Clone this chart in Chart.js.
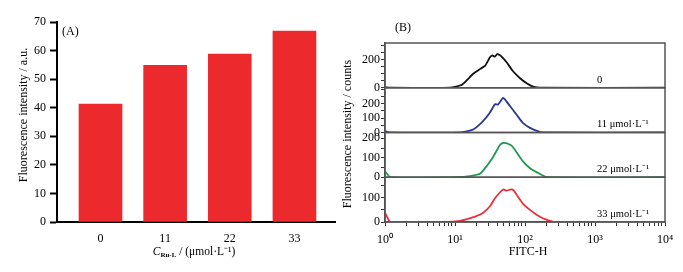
<!DOCTYPE html>
<html>
<head>
<meta charset="utf-8">
<script src="https://cdn.jsdelivr.net/npm/chart.js@4.4.0/dist/chart.umd.min.js"></script>
<style>
  body { margin: 0; background: #fff; }
  #wrap { position: relative; width: 683px; height: 272px; }
  #barChart { position: absolute; left: 0; top: 0; }
  #histChart { position: absolute; left: 340px; top: 0; }
</style>
</head>
<body>
<div id="wrap">
  <canvas id="barChart" width="340" height="272"></canvas>
  <canvas id="histChart" width="343" height="272"></canvas>
</div>
<script>
// (A) mean fluorescence vs Ru-L concentration
const concLabels = ['0', '11', '22', '33'];
const concValues = [0, 11, 22, 33];
const meanIntensity = [41.3, 54.8, 58.8, 66.8];

// (B) flow cytometry histograms (FITC-H vs counts)
const fitc0 = [1, 1.2, 8.5, 12.6, 18, 23, 27, 31.6, 34, 37, 40, 44, 49, 55, 67, 85, 107, 130, 163, 10000];
const counts0 = [4, 0, 0, 22, 98, 135, 158, 218, 232, 222, 240, 232, 210, 180, 120, 68, 30, 8, 0, 0];

const fitc11 = [1, 1.15, 11.8, 18, 23, 28, 31.6, 37.3, 41, 44.5, 48.5, 52, 57, 64, 72, 80, 93, 118, 148, 181, 10000];
const counts11 = [10, 0, 0, 20, 60, 105, 138, 197, 193, 215, 240, 228, 202, 170, 138, 108, 67, 32, 11, 0, 0];

const fitc22 = [1, 1.2, 10.7, 16.4, 23, 29, 35, 40, 44, 49, 53, 57, 65, 77, 93, 118, 148, 206, 10000];
const counts22 = [30, 0, 0, 6, 19, 62, 104, 141, 167, 177, 175, 172, 161, 125, 83, 46, 25, 0, 0];

const fitc33 = [1, 1.1, 1.18, 7.7, 11.8, 14.9, 19.3, 25, 32, 37, 44, 49, 55, 63, 69, 79, 93, 118, 148, 193, 270, 10000];
const counts33 = [38, 15, 0, 0, 5, 12, 22, 37, 67, 97, 123, 135, 129, 135, 131, 105, 76, 50, 29, 12, 0, 0];

const histNames = ['0', '11 \u03bcmol\u00b7L\u207b\u00b9', '22 \u03bcmol\u00b7L\u207b\u00b9', '33 \u03bcmol\u00b7L\u207b\u00b9'];
const histColors = ['#111111', '#2b3990', '#1e9a4c', '#e8313c'];
const histMax = [320, 310, 230, 185];
const histTicks = [
    [0, 50, 100, 150, 200, 250, 300],
    [0, 50, 100, 150, 200, 250, 300],
    [0, 50, 100, 150, 200],
    [0, 50, 100, 150]
];
const histTickLabels = [[0, 200], [0, 100, 200], [0, 100, 200], [0, 100]];

const xMajorTicks = [1, 10, 100, 1000, 10000];
const xMajorLabels = ['10\u2070', '10\u00b9', '10\u00b2', '10\u00b3', '10\u2074'];

const SERIF = '"Liberation Serif", "Times New Roman", serif';
Chart.defaults.font.family = SERIF;
Chart.defaults.font.size = 12;
Chart.defaults.color = '#000';

// ---------- (A) ----------
const barTextPlugin = {
    id: 'barText',
    afterDraw(chart) {
        const ctx = chart.ctx;
        ctx.save();
        ctx.fillStyle = '#000';
        ctx.textBaseline = 'middle';
        ctx.font = '12px ' + SERIF;
        ctx.textAlign = 'left';
        ctx.fillText('(A)', 62, 32);

        // y title
        ctx.save();
        ctx.translate(24, 115);
        ctx.rotate(-Math.PI / 2);
        ctx.textAlign = 'center';
        ctx.fillText('Fluorescence intensity / a.u.', 0, 0);
        ctx.restore();

        // x title: C(Ru-L) / (umol·L-1)
        const parts = [
            { text: 'C', font: 'italic 11.5px ' + SERIF, dy: 0 },
            { text: 'Ru-L', font: 'bold 7px ' + SERIF, dy: 3 },
            { text: ' / (\u03bcmol\u00b7L\u207b\u00b9)', font: '11.5px ' + SERIF, dy: 0 }
        ];
        let total = 0;
        parts.forEach(p => { ctx.font = p.font; p.w = ctx.measureText(p.text).width; total += p.w; });
        let x = 194 - total / 2;
        ctx.textAlign = 'left';
        parts.forEach(p => {
            ctx.font = p.font;
            ctx.fillText(p.text, x, 252 + p.dy);
            x += p.w;
        });
        ctx.restore();
    }
};

new Chart(document.getElementById('barChart').getContext('2d'), {
    type: 'bar',
    data: {
        datasets: [{
            data: concValues.map((c, i) => ({ x: c, y: meanIntensity[i] })),
            backgroundColor: '#ec2a2d',
            barThickness: 43
        }]
    },
    options: {
        responsive: false,
        animation: false,
        layout: { padding: { top: 22, right: 5, left: 0, bottom: 0 } },
        plugins: { legend: { display: false }, tooltip: { enabled: false } },
        scales: {
            x: {
                type: 'linear',
                offset: false,
                min: -7.4,
                max: 39.9,
                afterBuildTicks: s => { s.ticks = concValues.map(v => ({ value: v })); },
                afterFit: s => { s.height = 50; },
                ticks: {
                    autoSkip: false,
                    maxRotation: 0,
                    padding: 2,
                    callback: v => concLabels[concValues.indexOf(v)]
                },
                grid: { display: false },
                border: { color: '#000', width: 2 }
            },
            y: {
                min: 0,
                max: 70,
                afterFit: s => { s.width = 57; },
                ticks: { stepSize: 10, padding: 4 },
                grid: { drawOnChartArea: false, tickLength: 7, tickColor: '#000', tickWidth: 2 },
                border: { color: '#000', width: 2 }
            }
        }
    },
    plugins: [barTextPlugin]
});

// ---------- (B) ----------
const histSeries = [[fitc0, counts0], [fitc11, counts11], [fitc22, counts22], [fitc33, counts33]];

const histScales = {
    x: {
        type: 'logarithmic',
        min: 1,
        max: 10000,
        afterBuildTicks: s => {
            const ticks = [];
            xMajorTicks.forEach((m, i) => {
                ticks.push({ value: m });
                if (i < xMajorTicks.length - 1) {
                    for (let k = 2; k <= 9; k++) ticks.push({ value: m * k });
                }
            });
            s.ticks = ticks;
        },
        afterFit: s => { s.height = 50; },
        ticks: {
            autoSkip: false,
            maxRotation: 0,
            padding: 7,
            callback: v => {
                const i = xMajorTicks.indexOf(v);
                return i >= 0 ? xMajorLabels[i] : '';
            }
        },
        grid: { drawOnChartArea: false, tickLength: 4, tickColor: '#333' },
        border: { color: '#444', width: 1.5 }
    }
};
// stacked axes are laid out bottom-up, so add the lowest panel first
for (let i = histSeries.length - 1; i >= 0; i--) {
    histScales['h' + i] = {
        type: 'linear',
        position: 'left',
        stack: 'counts',
        stackWeight: 1,
        min: 0,
        max: histMax[i],
        afterBuildTicks: sc => { sc.ticks = histTicks[i].map(v => ({ value: v })); },
        afterFit: sc => { sc.width = 45; },
        ticks: {
            autoSkip: false,
            padding: 1,
            callback: v => histTickLabels[i].includes(v) ? String(v) : ''
        },
        grid: { drawOnChartArea: false, tickLength: 4, tickColor: '#333' },
        border: { color: '#444', width: 1.5 }
    };
}

const histTextPlugin = {
    id: 'histText',
    afterDatasetsDraw(chart) {
        const ctx = chart.ctx;
        const area = chart.chartArea;
        ctx.save();
        ctx.strokeStyle = '#555';
        ctx.lineWidth = 1.5;
        histSeries.forEach((s, i) => {
            const sc = chart.scales['h' + i];
            ctx.strokeRect(area.left, sc.top, area.right - area.left, sc.bottom - sc.top);
        });
        ctx.fillStyle = '#000';
        ctx.textBaseline = 'middle';
        ctx.font = '12px ' + SERIF;
        ctx.textAlign = 'left';
        ctx.fillText('(B)', 55, 28);
        ctx.font = '10.5px ' + SERIF;
        histNames.forEach((n, i) => {
            const sc = chart.scales['h' + i];
            ctx.fillText(n, 257, sc.bottom - 8);
        });
        ctx.font = '12px ' + SERIF;
        ctx.textAlign = 'center';
        ctx.fillText('FITC-H', (area.left + area.right) / 2 + 3, 252);
        ctx.save();
        ctx.translate(8, 134);
        ctx.rotate(-Math.PI / 2);
        ctx.fillText('Fluorescence intensity / counts', 0, 0);
        ctx.restore();
        ctx.restore();
    }
};

new Chart(document.getElementById('histChart').getContext('2d'), {
    type: 'line',
    data: {
        datasets: histSeries.map((s, i) => ({
            label: histNames[i],
            data: s[0].map((x, j) => ({ x: x, y: s[1][j] })),
            yAxisID: 'h' + i,
            borderColor: histColors[i],
            borderWidth: 1.8,
            pointRadius: 0,
            fill: false,
            tension: 0.15
        }))
    },
    options: {
        responsive: false,
        animation: false,
        layout: { padding: { top: 43, right: 18, left: 0, bottom: 0 } },
        plugins: { legend: { display: false }, tooltip: { enabled: false } },
        scales: histScales
    },
    plugins: [histTextPlugin]
});
</script>
</body>
</html>
